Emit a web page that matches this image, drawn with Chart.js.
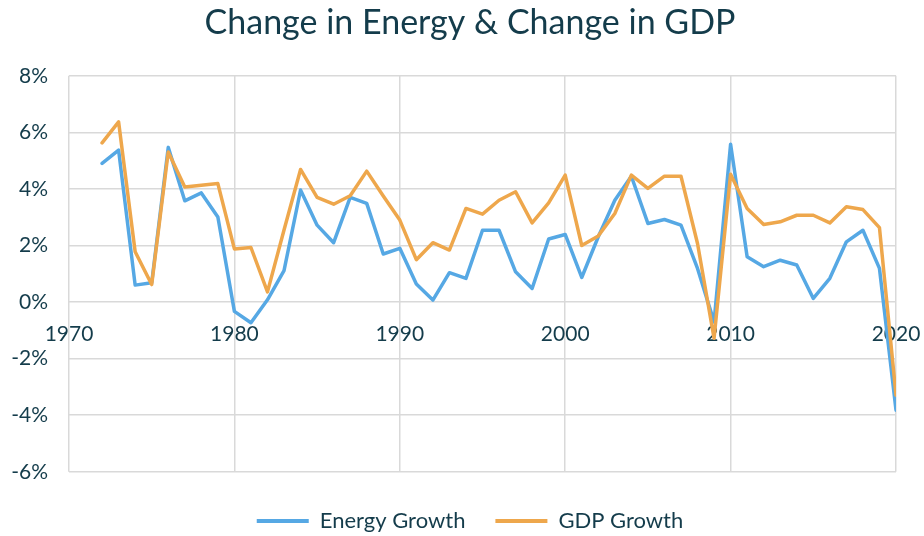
<!DOCTYPE html>
<html>
<head>
<meta charset="utf-8">
<script src="https://cdn.jsdelivr.net/npm/chart.js@4/dist/chart.umd.min.js"></script>
<style>
  html, body { margin: 0; padding: 0; background: #ffffff; }
  #wrap { width: 924px; height: 536px; }
</style>
</head>
<body>
<div id="wrap"><canvas id="c" width="924" height="536"></canvas></div>
<script>
const years = [1972,1973,1974,1975,1976,1977,1978,1979,1980,1981,1982,1983,1984,1985,1986,1987,1988,1989,1990,1991,1992,1993,1994,1995,1996,1997,1998,1999,2000,2001,2002,2003,2004,2005,2006,2007,2008,2009,2010,2011,2012,2013,2014,2015,2016,2017,2018,2019,2020];
const energyGrowth = [4.90,5.37,0.60,0.68,5.47,3.58,3.86,3.01,-0.33,-0.73,0.08,1.11,3.96,2.72,2.10,3.70,3.49,1.70,1.90,0.64,0.07,1.04,0.84,2.54,2.54,1.07,0.48,2.23,2.39,0.87,2.31,3.60,4.45,2.78,2.92,2.72,1.19,-0.70,5.58,1.60,1.25,1.48,1.31,0.13,0.84,2.13,2.54,1.19,-3.82];
const gdpGrowth = [5.63,6.37,1.78,0.62,5.31,4.07,4.13,4.19,1.88,1.93,0.36,2.55,4.69,3.70,3.46,3.76,4.63,3.75,2.90,1.50,2.10,1.84,3.31,3.11,3.60,3.90,2.80,3.51,4.49,2.00,2.34,3.13,4.49,4.02,4.45,4.45,2.07,-1.28,4.52,3.31,2.74,2.84,3.07,3.07,2.80,3.37,3.27,2.63,-3.29];
const xTicks = [1970,1980,1990,2000,2010,2020];
const yTicks = [-6,-4,-2,0,2,4,6,8];
const seriesNames = ['Energy Growth','GDP Growth'];
const seriesColors = ['#56a8e4','#eea74c'];
const titleText = 'Change in Energy & Change in GDP';

const textColor = '#143c4b';
const gridColor = '#d9d9d9';
const FONT = 'Lato, "Open Sans", sans-serif';

const toPts = arr => years.map((y, i) => ({ x: y, y: arr[i] }));

const xBase = {
  type: 'linear',
  position: { y: 0 },
  min: xTicks[0], max: xTicks[xTicks.length - 1],
  afterBuildTicks: s => { s.ticks = xTicks.map(v => ({ value: v })); },
  afterFit: s => { s.paddingLeft = 0; s.paddingRight = 28; },
  border: { display: false }
};

new Chart(document.getElementById('c'), {
  type: 'line',
  data: {
    datasets: [
      { label: seriesNames[0], data: toPts(energyGrowth), borderColor: seriesColors[0], backgroundColor: seriesColors[0],
        borderWidth: 3.5, pointRadius: 0, tension: 0, borderCapStyle: 'round', borderJoinStyle: 'round', order: 1 },
      { label: seriesNames[1], data: toPts(gdpGrowth), borderColor: seriesColors[1], backgroundColor: seriesColors[1],
        borderWidth: 3.5, pointRadius: 0, tension: 0, borderCapStyle: 'round', borderJoinStyle: 'round', order: 0 }
    ]
  },
  options: {
    responsive: false,
    animation: false,
    layout: { padding: { left: 16, right: 0, top: 0, bottom: -6 } },
    plugins: {
      tooltip: { enabled: false },
      title: {
        display: true, text: titleText, color: textColor,
        font: { family: FONT, size: 34, weight: 'normal' },
        padding: { top: 3, bottom: 32 }
      },
      legend: {
        position: 'bottom',
        title: { display: true, text: ' ', font: { size: 1 }, padding: { top: 7, bottom: 0 } },
        labels: {
          color: textColor,
          font: { family: FONT, size: 22 },
          boxWidth: 52, boxHeight: 4,
          padding: 30,
          generateLabels: chart => chart.data.datasets.map((ds, i) => ({
            text: ds.label, fillStyle: ds.borderColor, strokeStyle: ds.borderColor,
            lineWidth: 0, fontColor: textColor, hidden: false, datasetIndex: i
          }))
        }
      }
    },
    scales: {
      x: Object.assign({}, xBase, {
        ticks: { display: false },
        grid: { color: gridColor, lineWidth: 1.5, drawTicks: false }
      }),
      xLabels: Object.assign({}, xBase, {
        axis: 'x',
        z: 1,
        ticks: { color: textColor, font: { family: FONT, size: 21 }, padding: 20, maxRotation: 0, autoSkip: false,
                 callback: v => String(v) },
        grid: { display: false, drawTicks: false }
      }),
      y: {
        min: yTicks[0], max: yTicks[yTicks.length - 1],
        afterBuildTicks: s => { s.ticks = yTicks.map(v => ({ value: v })); },
        afterFit: s => { s.width = 53; s._computeLabelArea = () => undefined; },
        ticks: { color: textColor, font: { family: FONT, size: 21 }, padding: 21,
                 callback: v => v + '%' },
        grid: { color: gridColor, lineWidth: 1.5, drawTicks: false },
        border: { display: false }
      }
    }
  }
});
</script>
</body>
</html>
